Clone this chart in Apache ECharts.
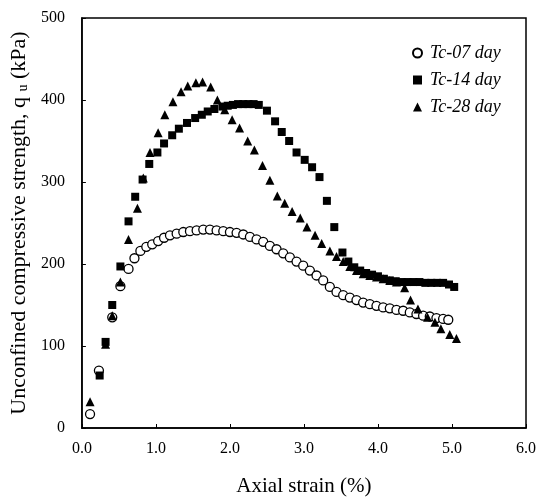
<!DOCTYPE html>
<html>
<head>
<meta charset="utf-8">
<script src="https://cdn.jsdelivr.net/npm/echarts@6/dist/echarts.min.js"></script>
<style>html,body{margin:0;padding:0;background:#fff;}#c{width:539px;height:502px;}</style>
</head>
<body>
<div id="c"></div>
<script>
var seriesNames = ['Tc-07 day', 'Tc-14 day', 'Tc-28 day'];
var xTicks = [0, 1, 2, 3, 4, 5, 6];
var yTicks = [0, 100, 200, 300, 400, 500];

var x07 = [0.11,0.23,0.41,0.52,0.63,0.71,0.79,0.87,0.95,1.03,1.11,1.19,1.28,1.37,1.46,1.55,1.64,1.73,1.82,1.91,2.00,2.09,2.18,2.27,2.36,2.45,2.54,2.63,2.72,2.81,2.90,2.99,3.08,3.17,3.26,3.35,3.44,3.53,3.62,3.71,3.80,3.89,3.98,4.07,4.16,4.25,4.34,4.43,4.52,4.61,4.70,4.79,4.88,4.95];
var y07 = [17,70,135,173,194,207,216,221,224,228,232,235,237,239,240,241,242,242,241,240,239,238,236,233,230,227,222,218,213,208,203,198,192,186,180,172,166,162,159,156,153,151,149,147,146,144,143,141,139,137,136,134,133,132];

var x14 = [0.24,0.32,0.41,0.52,0.63,0.72,0.82,0.91,1.02,1.11,1.22,1.31,1.42,1.53,1.62,1.70,1.79,1.90,1.97,2.04,2.11,2.18,2.25,2.32,2.39,2.50,2.61,2.70,2.80,2.90,3.01,3.11,3.21,3.31,3.41,3.52,3.60,3.68,3.76,3.84,3.92,4.00,4.08,4.16,4.24,4.32,4.40,4.48,4.56,4.64,4.72,4.80,4.88,4.96,5.03];
var y14 = [64,105,150,197,252,282,303,322,336,347,357,365,372,378,382,386,389,392,393,394,395,395,395,395,394,387,374,361,350,336,327,318,306,277,245,214,203,196,192,189,187,185,182,180,179,178,178,178,178,177,177,177,177,175,172];

var x28 = [0.11,0.32,0.41,0.52,0.63,0.75,0.83,0.92,1.03,1.12,1.23,1.34,1.43,1.54,1.63,1.74,1.83,1.93,2.03,2.13,2.24,2.33,2.44,2.54,2.64,2.74,2.84,2.95,3.04,3.15,3.24,3.35,3.44,3.53,3.62,3.71,3.80,3.89,3.98,4.07,4.16,4.25,4.36,4.44,4.54,4.67,4.77,4.85,4.97,5.06];
var y28 = [32,102,137,178,230,268,305,336,360,382,398,410,417,421,422,416,400,388,376,366,350,339,320,302,283,274,264,256,245,235,225,216,209,203,197,192,188,186,184,182,180,178,171,156,145,135,129,121,114,109];

function pairs(xs, ys) { return xs.map(function (x, i) { return [x, ys[i]]; }); }

var FONT = '"Liberation Serif", "Times New Roman", serif';
var chart = echarts.init(document.getElementById('c'), null, { renderer: 'canvas' });
chart.setOption({
  backgroundColor: '#fff',
  animation: false,
  grid: { left: 81, right: 10, top: 18, bottom: 63, show: true, borderColor: '#000', borderWidth: 1.5, backgroundColor: 'transparent' },
  legend: {
    orient: 'vertical', left: 407, top: 39, itemWidth: 9, itemHeight: 9, itemGap: 9,
    textStyle: { fontFamily: FONT, fontStyle: 'italic', fontSize: 18, color: '#000', padding: [0, 0, 0, 3] },
    data: [
      { name: seriesNames[0], icon: 'circle' },
      { name: seriesNames[1], icon: 'rect' },
      { name: seriesNames[2], icon: 'triangle' }
    ]
  },
  xAxis: {
    type: 'value', min: xTicks[0], max: xTicks[xTicks.length - 1], interval: 1,
    name: 'Axial strain (%)', nameLocation: 'middle', nameGap: 48,
    nameTextStyle: { fontFamily: FONT, fontSize: 21, color: '#000' },
    axisLine: { show: true, lineStyle: { color: '#000', width: 1.5 } },
    axisTick: { show: true, inside: true, length: 4, lineStyle: { color: '#000' } },
    axisLabel: { fontFamily: FONT, fontSize: 16, color: '#000', margin: 13, formatter: function (v) { return v.toFixed(1); } },
    splitLine: { show: false }
  },
  yAxis: {
    type: 'value', min: yTicks[0], max: yTicks[yTicks.length - 1], interval: 100,
    name: 'Unconfined compressive strength, q {s|u} (kPa)', nameLocation: 'middle', nameGap: 47, nameRotate: 90,
    nameTextStyle: { fontFamily: FONT, fontSize: 22, color: '#000', rich: { s: { fontFamily: FONT, fontSize: 14, color: '#000', verticalAlign: 'bottom' } } },
    axisLine: { show: true, lineStyle: { color: '#000', width: 1.5 } },
    axisTick: { show: true, inside: true, length: 4, lineStyle: { color: '#000' } },
    axisLabel: { fontFamily: FONT, fontSize: 16, color: '#000', margin: 17 },
    splitLine: { show: false }
  },
  series: [
    { name: seriesNames[0], type: 'scatter', symbol: 'circle', symbolSize: 9,
      itemStyle: { color: '#fff', borderColor: '#000', borderWidth: 1.3, opacity: 1 },
      data: pairs(x07, y07), z: 3 },
    { name: seriesNames[1], type: 'scatter', symbol: 'rect', symbolSize: 8,
      itemStyle: { color: '#000', opacity: 1 }, data: pairs(x14, y14), z: 4 },
    { name: seriesNames[2], type: 'scatter', symbol: 'triangle', symbolSize: 9,
      itemStyle: { color: '#000', opacity: 1 }, data: pairs(x28, y28), z: 5 }
  ]
});
</script>
</body>
</html>
